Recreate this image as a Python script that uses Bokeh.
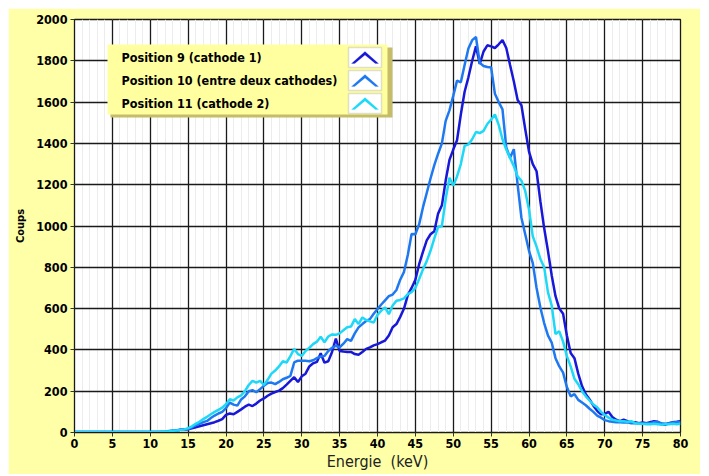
from bokeh.plotting import figure
from bokeh.models import (Range1d, SingleIntervalTicker, BoxAnnotation, Label,
                          PolyAnnotation)
from bokeh.embed import file_html
from bokeh.resources import INLINE

# Energy bins (keV), 0.5 keV steps
energie = [i * 0.5 for i in range(161)]

pos9 = [2] * 20 + [
    3, 3, 2, 3, 4, 6, 8, 10, 13, 15,
    16, 20, 25, 30, 35, 40, 45, 50, 57, 65,
    85, 92, 88, 100, 112, 125, 135, 128, 140, 155,
    165, 178, 188, 196, 203, 215, 232, 250, 268, 244,
    272, 285, 320, 335, 342, 384, 338, 345, 390, 455,
    395, 392, 390, 390, 380, 377, 390, 405, 412, 422,
    428, 437, 445, 470, 510, 525, 560, 600, 665, 700,
    740, 815, 875, 930, 960, 975, 1060, 1100, 1220, 1320,
    1370, 1415, 1540, 1650, 1720, 1800, 1870, 1785, 1845, 1875,
    1870, 1862, 1880, 1900, 1862, 1780, 1700, 1610, 1585, 1470,
    1360, 1300, 1265, 1120, 990, 880, 760, 660, 600, 575,
    470, 385, 360, 285, 225, 185, 160, 130, 105, 88,
    90, 100, 75, 62, 55, 62, 55, 48, 50, 45,
    48, 45, 50, 55, 52, 40, 38, 45, 50, 52,
    55]

pos10 = [2] * 20 + [
    3, 2, 3, 4, 5, 7, 9, 11, 13, 14,
    16, 25, 35, 42, 50, 56, 70, 82, 92, 100,
    118, 145, 135, 130, 160, 175, 200, 205, 195, 210,
    226, 240, 242, 234, 245, 258, 265, 274, 339, 348,
    347, 347, 345, 350, 360, 368, 371, 395, 410, 420,
    412, 430, 452, 444, 480, 509, 525, 540, 549, 575,
    598, 620, 640, 660, 668, 690, 740, 778, 860, 961,
    960, 1009, 1090, 1160, 1230, 1295, 1350, 1400, 1509, 1560,
    1630, 1704, 1696, 1780, 1860, 1900, 1915, 1790, 1775, 1770,
    1768, 1640, 1600, 1565, 1380, 1330, 1372, 1200, 1040, 960,
    880, 820, 700, 605, 530, 470, 435, 360, 320, 290,
    220, 175, 186, 158, 145, 132, 115, 100, 82, 72,
    60, 55, 52, 50, 50, 48, 50, 45, 45, 45,
    42, 45, 45, 50, 50, 45, 42, 45, 48, 50,
    50]

pos11 = [2] * 20 + [
    2, 3, 3, 4, 5, 6, 8, 10, 12, 15,
    21, 30, 42, 52, 65, 76, 88, 100, 110, 120,
    137, 161, 155, 170, 180, 200, 230, 250, 242, 250,
    230, 255, 285, 300, 320, 345, 339, 370, 405, 380,
    371, 395, 410, 428, 440, 464, 437, 465, 475, 473,
    480, 495, 510, 513, 549, 525, 557, 545, 538, 533,
    570, 590, 606, 573, 615, 638, 642, 650, 670, 680,
    700, 743, 790, 830, 880, 940, 995, 1000, 1130, 1234,
    1195, 1240, 1300, 1388, 1395, 1420, 1455, 1450, 1461, 1494,
    1515, 1540, 1490, 1420, 1370, 1330, 1290, 1240, 1219, 1170,
    1080, 950, 900, 840, 800, 680, 614, 477, 490, 440,
    370, 320, 260, 234, 200, 175, 155, 135, 122, 100,
    85, 72, 62, 58, 55, 55, 52, 55, 45, 42,
    42, 40, 40, 42, 40, 38, 40, 40, 42, 40,
    42]

labels = ["Position 9 (cathode 1)", "Position 10 (entre deux cathodes)", "Position 11 (cathode 2)"]
colors = ["#1818d8", "#1e78f0", "#1ed8f8"]

p = figure(width=692, height=466, x_range=Range1d(0, 80), y_range=Range1d(0, 2000),
           output_backend="svg", toolbar_location=None,
           background_fill_color="white", border_fill_color="#ffffa8",
           min_border_left=66, min_border_right=20, min_border_top=11, min_border_bottom=42)
p.margin = (8, 0, 0, 8)

p.xaxis.ticker = SingleIntervalTicker(interval=5, num_minor_ticks=5)
p.yaxis.ticker = SingleIntervalTicker(interval=200, num_minor_ticks=2)

p.xgrid.grid_line_color = "#1a1a1a"
p.xgrid.grid_line_width = 1.3
p.xgrid.minor_grid_line_color = "#ececec"
p.ygrid.grid_line_color = "#1a1a1a"
p.ygrid.grid_line_width = 1.3
p.ygrid.minor_grid_line_color = None
p.outline_line_color = "#1a1a1a"
p.outline_line_width = 1.3

for ax in (p.xaxis[0], p.yaxis[0]):
    ax.axis_line_color = "#1a1a1a"
    ax.major_tick_out = 4
    ax.major_tick_in = 0
    ax.minor_tick_out = 0
    ax.minor_tick_in = 0
    ax.major_tick_line_color = "#333333"
    ax.major_label_text_font = "DejaVu Sans Condensed"
    ax.major_label_text_font_style = "bold"
    ax.major_label_text_font_size = "12.5px"
    ax.major_label_text_color = "black"

p.xaxis.major_label_standoff = 2
p.xaxis.axis_label = "Energie\u00a0 (keV)"
p.xaxis.axis_label_text_font = "DejaVu Sans Condensed"
p.xaxis.axis_label_text_font_style = "normal"
p.xaxis.axis_label_text_font_size = "16px"
p.xaxis.axis_label_standoff = 1
p.xaxis.axis_label_text_color = "#222222"

p.yaxis.major_label_standoff = 3
p.yaxis.axis_label = "Coups"
p.yaxis.axis_label_text_font = "DejaVu Sans Condensed"
p.yaxis.axis_label_text_font_style = "bold"
p.yaxis.axis_label_text_font_size = "11px"
p.yaxis.axis_label_standoff = 6
p.yaxis.axis_label_text_color = "black"

for ys, c in zip([pos9, pos10, pos11], colors):
    p.line(energie, ys, line_color=c, line_width=2.5)

# ---- legend box (screen units, relative to the plot frame) ----
S = dict(left_units="screen", right_units="screen", top_units="screen", bottom_units="screen")
p.add_layout(BoxAnnotation(left=36, right=318, bottom=315, top=385, fill_color="#c4bc68",
                           fill_alpha=1.0, line_color=None, **S))
p.add_layout(BoxAnnotation(left=33, right=313, bottom=318, top=388, fill_color="#ffffa0",
                           fill_alpha=1.0, line_color=None, **S))

row_centers = [375, 352, 329]
for lab, c, yc in zip(labels, colors, row_centers):
    p.add_layout(Label(x=47, y=yc, x_units="screen", y_units="screen", text=lab,
                       text_font="DejaVu Sans Condensed", text_font_style="bold",
                       text_font_size="12.5px", text_baseline="middle", text_color="black"))
    p.add_layout(BoxAnnotation(left=274, right=307, bottom=yc - 10, top=yc + 10,
                               fill_color="white", fill_alpha=1.0,
                               line_color="#9a9a9a", line_width=1.5, **S))
    L, R, M = 277.0, 304.0, 290.5
    yb, yt = yc - 6.0, yc + 6.0
    p.add_layout(PolyAnnotation(xs=[L, M, R, R - 3.2, M, L + 3.2],
                                ys=[yb, yt, yb, yb, yt - 3.6, yb],
                                xs_units="screen", ys_units="screen",
                                fill_color=c, fill_alpha=1.0, line_color=c, line_width=0.6))

open("out.html", "w").write(file_html(p, INLINE))
